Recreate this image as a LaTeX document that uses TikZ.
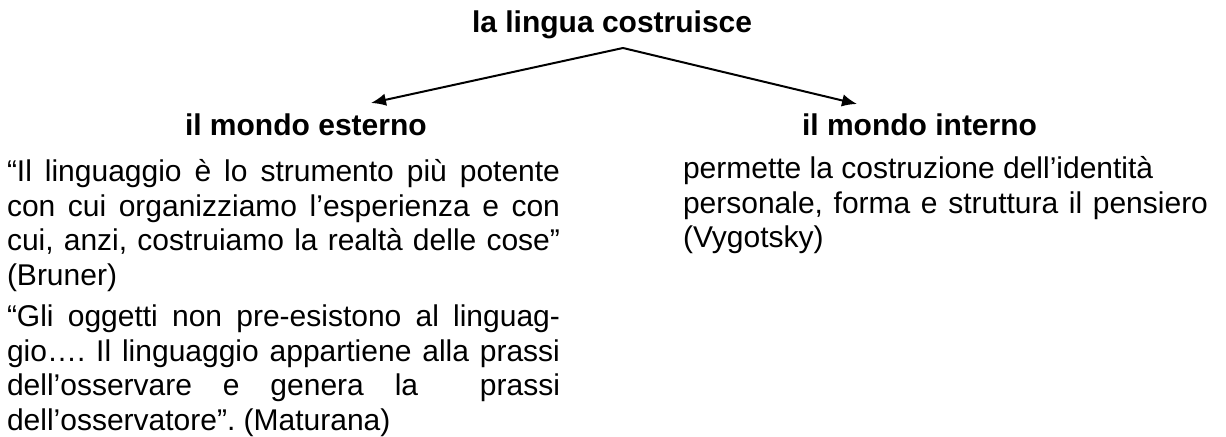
\documentclass[tikz,border=0pt]{standalone}
\usepackage{fontspec}
\setmainfont{Liberation Sans}
\usetikzlibrary{arrows.meta}
\frenchspacing
\begin{document}
\begin{tikzpicture}[x=0.4pt,y=-0.4pt,
  txt/.style={inner sep=0pt,outer sep=0pt,font=\fontsize{12pt}{13.8pt}\selectfont},
  head/.style={txt,anchor=base west,font=\fontsize{12pt}{13.8pt}\selectfont\bfseries},
  para/.style={txt,anchor=base west,align=justify,execute at begin node={\frenchspacing\tolerance=10000\hyphenpenalty=10000\relax}},
  conn/.style={line width=0.8pt,-{Latex[length=6pt,width=5pt]}}]
\useasboundingbox (0,0) rectangle (1226,437);
\node[head] (title) at (472,33) {la lingua costruisce};
\node[head] (est) at (185,136) {il mondo esterno};
\node[head] (int) at (802,136) {il mondo interno};
\node[para,text width=221.2pt] (p1) at (7,182) {“Il linguaggio è lo strumento più potente\linebreak con cui organizziamo l’esperienza e con\linebreak cui, anzi, costruiamo la realtà delle cose”\linebreak (Bruner)};
\node[para,text width=221.2pt] (p2) at (7,327) {“Gli oggetti non pre-esistono al linguag-\linebreak gio…. Il linguaggio appartiene alla prassi\linebreak dell’osservare e genera la\ \ prassi\linebreak dell’osservatore”. (Maturana)};
\node[para,text width=210pt] (p3) at (683,179) {permette la costruzione dell’identità\newline personale, forma e struttura il pensiero\linebreak (Vygotsky)};
\coordinate (apex) at (623,48);
\coordinate (tl) at (371,103);
\coordinate (tr) at (857,104);
\draw[conn] (apex) -- (tl);
\draw[conn] (apex) -- (tr);
\end{tikzpicture}
\end{document}
